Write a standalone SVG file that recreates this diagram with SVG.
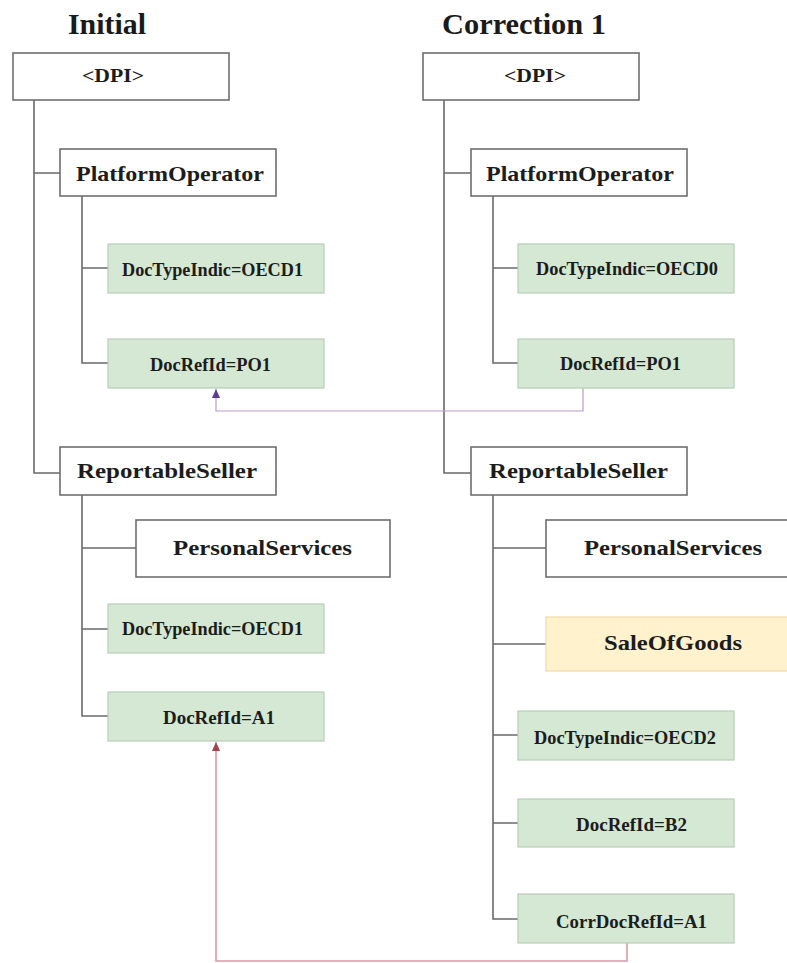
<svg xmlns="http://www.w3.org/2000/svg" width="787" height="963" viewBox="0 0 787 963">
<style>
.bg{fill:#ffffff}
.title{font-family:"Liberation Serif","Times New Roman",serif;font-weight:bold;font-size:30px;fill:#1a1a1a}
.wbox{fill:#ffffff;stroke:#6e6e6e;stroke-width:1.6}
.gbox{fill:#d5e8d4;stroke:#b9cbb7;stroke-width:1.2}
.ybox{fill:#fff2cc;stroke:#eedba8;stroke-width:1.2}
.t{font-family:"Liberation Serif","Times New Roman",serif;font-weight:bold;fill:#1c1c1c}
.big{font-size:22px}
.sm{font-size:18px}
.dpi{font-size:18px}
.tree{fill:none;stroke:#6a6a6a;stroke-width:1.6}
.purple{fill:none;stroke:#b79ccc;stroke-width:1.2}
.red{fill:none;stroke:#d99aa4;stroke-width:1.6}
</style>
<defs>
<marker id="ahP" markerUnits="userSpaceOnUse" markerWidth="9" markerHeight="8" refX="9" refY="4" orient="auto" viewBox="0 0 9 8">
<path d="M0 0 L9 4 L0 8 Z" fill="#5a3d8f"/>
</marker>
<marker id="ahR" markerUnits="userSpaceOnUse" markerWidth="9" markerHeight="8" refX="9" refY="4" orient="auto" viewBox="0 0 9 8">
<path d="M0 0 L9 4 L0 8 Z" fill="#a8404c"/>
</marker>
</defs>
<rect class="bg" x="0" y="0" width="787" height="963"/>
<text class="title" x="68" y="34" textLength="78" lengthAdjust="spacingAndGlyphs">Initial</text>
<text class="title" x="442" y="34" textLength="164" lengthAdjust="spacingAndGlyphs">Correction 1</text>

<g id="connectors">
<path class="tree" d="M34 100 V473 H60 M34 173 H60"/>
<path class="tree" d="M82 196 V363 H108 M82 268 H108"/>
<path class="tree" d="M82 495 V716 H108 M82 548 H136 M82 629 H108"/>
<path class="tree" d="M444 100 V473 H471 M444 173 H471"/>
<path class="tree" d="M493 196 V363 H518 M493 268 H518"/>
<path class="tree" d="M493 495 V919 H518 M493 548 H546 M493 644 H546 M493 735 H518 M493 823 H518"/>
<path class="purple" d="M583 388 V411 H216 V389" marker-end="url(#ahP)"/>
<path class="red" d="M627 943 V961 H216 V742" marker-end="url(#ahR)"/>
</g>

<g id="l-dpi"><rect class="wbox" x="13" y="53" width="216" height="47"/><text class="t dpi" x="82" y="82" textLength="62" lengthAdjust="spacingAndGlyphs">&lt;DPI&gt;</text></g>
<g id="l-po"><rect class="wbox" x="60" y="149" width="216" height="47"/><text class="t big" x="76" y="181" textLength="188" lengthAdjust="spacingAndGlyphs">PlatformOperator</text></g>
<g id="l-po-dti"><rect class="gbox" x="108" y="244" width="216" height="49"/><text class="t sm" x="122" y="276" textLength="181" lengthAdjust="spacingAndGlyphs">DocTypeIndic=OECD1</text></g>
<g id="l-po-dri"><rect class="gbox" x="108" y="339" width="216" height="49"/><text class="t sm" x="150" y="371" textLength="121" lengthAdjust="spacingAndGlyphs">DocRefId=PO1</text></g>
<g id="l-rs"><rect class="wbox" x="60" y="447" width="216" height="48"/><text class="t big" x="77" y="478" textLength="180" lengthAdjust="spacingAndGlyphs">ReportableSeller</text></g>
<g id="l-ps"><rect class="wbox" x="136" y="520" width="254" height="57"/><text class="t big" x="173" y="555" textLength="179" lengthAdjust="spacingAndGlyphs">PersonalServices</text></g>
<g id="l-rs-dti"><rect class="gbox" x="108" y="604" width="216" height="49"/><text class="t sm" x="122" y="635" textLength="181" lengthAdjust="spacingAndGlyphs">DocTypeIndic=OECD1</text></g>
<g id="l-rs-dri"><rect class="gbox" x="108" y="692" width="216" height="49"/><text class="t sm" x="163" y="724" textLength="112" lengthAdjust="spacingAndGlyphs">DocRefId=A1</text></g>

<g id="r-dpi"><rect class="wbox" x="423" y="53" width="216" height="47"/><text class="t dpi" x="504" y="82" textLength="62" lengthAdjust="spacingAndGlyphs">&lt;DPI&gt;</text></g>
<g id="r-po"><rect class="wbox" x="471" y="149" width="216" height="47"/><text class="t big" x="486" y="181" textLength="188" lengthAdjust="spacingAndGlyphs">PlatformOperator</text></g>
<g id="r-po-dti"><rect class="gbox" x="518" y="244" width="216" height="49"/><text class="t sm" x="536" y="275" textLength="182" lengthAdjust="spacingAndGlyphs">DocTypeIndic=OECD0</text></g>
<g id="r-po-dri"><rect class="gbox" x="518" y="339" width="216" height="49"/><text class="t sm" x="560" y="370" textLength="121" lengthAdjust="spacingAndGlyphs">DocRefId=PO1</text></g>
<g id="r-rs"><rect class="wbox" x="471" y="447" width="216" height="48"/><text class="t big" x="489" y="478" textLength="179" lengthAdjust="spacingAndGlyphs">ReportableSeller</text></g>
<g id="r-ps"><rect class="wbox" x="546" y="520" width="260" height="57"/><text class="t big" x="584" y="555" textLength="178" lengthAdjust="spacingAndGlyphs">PersonalServices</text></g>
<g id="r-sog"><rect class="ybox" x="546" y="617" width="260" height="54"/><text class="t big" x="604" y="650" textLength="138" lengthAdjust="spacingAndGlyphs">SaleOfGoods</text></g>
<g id="r-rs-dti"><rect class="gbox" x="518" y="711" width="216" height="49"/><text class="t sm" x="534" y="744" textLength="182" lengthAdjust="spacingAndGlyphs">DocTypeIndic=OECD2</text></g>
<g id="r-rs-dri"><rect class="gbox" x="518" y="799" width="216" height="48"/><text class="t sm" x="576" y="831" textLength="111" lengthAdjust="spacingAndGlyphs">DocRefId=B2</text></g>
<g id="r-rs-corr"><rect class="gbox" x="518" y="894" width="216" height="49"/><text class="t sm" x="556" y="928" textLength="151" lengthAdjust="spacingAndGlyphs">CorrDocRefId=A1</text></g>
</svg>
